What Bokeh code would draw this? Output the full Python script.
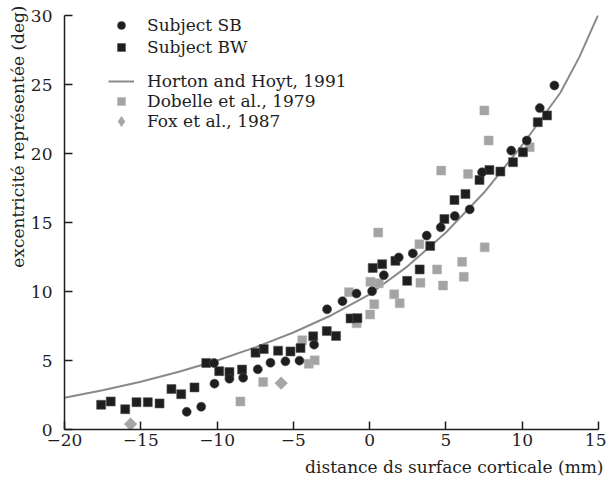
import math
from bokeh.plotting import figure
from bokeh.models import Range1d, FixedTicker, Legend, LegendItem, Title
from bokeh.embed import file_html
from bokeh.resources import INLINE

# ---------------- data ----------------
sb_x = [-11.99, -11.04, -10.17, -10.2, -9.19, -8.29, -7.33, -6.5, -5.52, -4.6, -3.64,
        -2.79, -1.78, -0.86, 0.16, 0.93, 1.91, 2.83, 3.74, 4.66, 5.58, 6.56, 7.37,
        9.28, 10.3, 11.15, 12.11]
sb_y = [1.28, 1.65, 3.32, 4.82, 3.68, 3.75, 4.36, 4.84, 4.94, 4.99, 6.15,
        8.71, 9.3, 9.85, 10.02, 11.18, 12.47, 12.76, 14.05, 14.65, 15.47, 15.95, 18.64,
        20.21, 20.94, 23.29, 24.93]

bw_x = [-17.6, -16.97, -16.02, -15.28, -14.54, -13.77, -12.99, -12.35, -11.48, -10.71,
        -9.86, -9.19, -8.36, -7.48, -6.94, -6.0, -5.19, -4.53, -3.7, -2.81, -2.2,
        -1.25, -0.8, 0.2, 0.82, 1.69, 2.46, 3.28, 3.97, 4.9, 5.56, 6.28, 7.2, 7.85,
        8.57, 9.4, 10.05, 11.02, 11.63]
bw_y = [1.79, 2.03, 1.47, 1.98, 1.98, 1.89, 2.93, 2.56, 3.05, 4.82,
        4.23, 4.16, 4.34, 5.57, 5.83, 5.71, 5.66, 5.9, 6.75, 7.13, 6.78,
        8.05, 8.07, 11.71, 11.98, 12.22, 10.77, 11.6, 13.3, 15.25, 16.63, 17.07, 18.08, 18.81,
        18.69, 19.37, 20.09, 22.27, 22.76]

dob_x = [-8.47, -6.98, -4.42, -3.99, -3.6, -1.35, -0.85, 0.03, 0.3, 0.05, 0.6, 0.56,
         1.61, 1.97, 3.26, 3.33, 4.42, 4.81, 4.69, 6.06, 6.17, 6.45, 7.54, 7.52, 7.8, 10.49]
dob_y = [2.03, 3.44, 6.46, 4.77, 5.01, 9.95, 7.7, 8.33, 9.08, 10.7, 10.6, 14.27,
         9.8, 9.15, 13.43, 10.63, 11.6, 10.43, 18.76, 12.15, 11.06, 18.52, 13.2, 23.12, 20.94, 20.46]

fox_x = [-15.67, -5.8]
fox_y = [0.39, 3.36]

curve_x = [-20, -17.5, -15, -12.5, -10, -7.5, -5, -2.5, 0, 2.5, 5, 7.5, 10, 12.5, 13.75, 15]
curve_y = [2.3, 2.85, 3.46, 4.18, 5.0, 5.95, 7.03, 8.28, 9.8, 11.84, 14.28, 17.17, 20.6, 24.4, 27.0, 30.1]

x_ticks = [-20, -15, -10, -5, 0, 5, 10, 15]
x_tick_labels = ["\u221220", "\u221215", "\u221210", "\u22125", "0", "5", "10", "15"]
y_ticks = [0, 5, 10, 15, 20, 25, 30]

legend_labels = ["Subject SB", "Subject BW", "Horton and Hoyt, 1991",
                 "Dobelle et al., 1979", "Fox et al., 1987"]
x_label = "distance ds surface corticale (mm)"
y_label = "excentricit\u00e9 repr\u00e9sent\u00e9e (deg)"

# ---------------- figure ----------------
FONT = "DejaVu Serif"
FS = "17px"
INK = "#1e1e1e"
GREY = "#a6a6a6"

p = figure(width=606, height=484, x_range=Range1d(-20, 15), y_range=Range1d(0, 30),
           output_backend="svg", toolbar_location=None,
           min_border_left=64, min_border_right=8, min_border_top=15, min_border_bottom=55)
p.grid.visible = False
p.outline_line_color = None
p.background_fill_color = "white"
p.border_fill_color = "white"

r_curve = p.line(curve_x, curve_y, line_color="#8a8a8a", line_width=2)
r_dob = p.scatter(dob_x, dob_y, marker="square", size=9, fill_color="#a4a4a4",
                  line_color="#b4b4b4", line_width=0.5)
# diamond key for the legend (legend keys are never rotated); it sits hidden
# beneath the rotated-square markers drawn right after it
r_fox_key = p.scatter(fox_x, fox_y, marker="diamond", size=7, fill_color=GREY,
                      line_color=GREY, line_width=0.5)
r_fox = p.scatter(fox_x, fox_y, marker="square", size=9, angle=math.pi / 4,
                  fill_color=GREY, line_color=GREY, line_width=0.5)
r_bw = p.scatter(bw_x, bw_y, marker="square", size=9, fill_color=INK,
                 line_color="#555555", line_width=0.6)
r_sb = p.scatter(sb_x, sb_y, marker="circle", size=9, fill_color=INK,
                 line_color="#444444", line_width=0.6)

for ax, ticks in ((p.xaxis[0], x_ticks), (p.yaxis[0], y_ticks)):
    ax.ticker = FixedTicker(ticks=ticks)
    ax.axis_line_color = INK
    ax.axis_line_width = 1.5
    ax.major_tick_line_color = INK
    ax.major_tick_line_width = 1.5
    ax.major_tick_in = 8
    ax.major_tick_out = 0
    ax.minor_tick_in = 0
    ax.minor_tick_out = 0
    ax.major_label_text_font = FONT
    ax.major_label_text_font_size = FS
    ax.major_label_text_color = INK
    ax.axis_label = None

p.xaxis[0].major_label_overrides = {t: l for t, l in zip(x_ticks, x_tick_labels)}
p.xaxis[0].major_label_standoff = 4
p.yaxis[0].major_label_standoff = 12

p.add_layout(Title(text=x_label, align="right", text_font=FONT, text_font_size=FS,
                   text_font_style="normal", text_color=INK, standoff=12, offset=-5), "below")
p.add_layout(Title(text=y_label, align="right", text_font=FONT, text_font_size=FS,
                   text_font_style="normal", text_color=INK, standoff=0, offset=-10), "left")

common = dict(label_text_font=FONT, label_text_font_size=FS, label_text_color=INK,
              glyph_width=26, label_standoff=13, padding=0, margin=0,
              border_line_color=None, background_fill_alpha=0)

leg1 = Legend(items=[LegendItem(label=legend_labels[0], renderers=[r_sb]),
                     LegendItem(label=legend_labels[1], renderers=[r_bw])],
              location=(44, 372), glyph_height=20, label_height=20, spacing=2, **common)
p.add_layout(leg1)
for lab, rend, ypos, gh in ((legend_labels[2], r_curve, 338, 20),
                            (legend_labels[3], r_dob, 318, 20),
                            (legend_labels[4], r_fox_key, 295, 26)):
    p.add_layout(Legend(items=[LegendItem(label=lab, renderers=[rend])],
                        location=(44, ypos), glyph_height=gh, label_height=20,
                        spacing=0, **common))

open("out.html", "w").write(file_html(p, INLINE))
